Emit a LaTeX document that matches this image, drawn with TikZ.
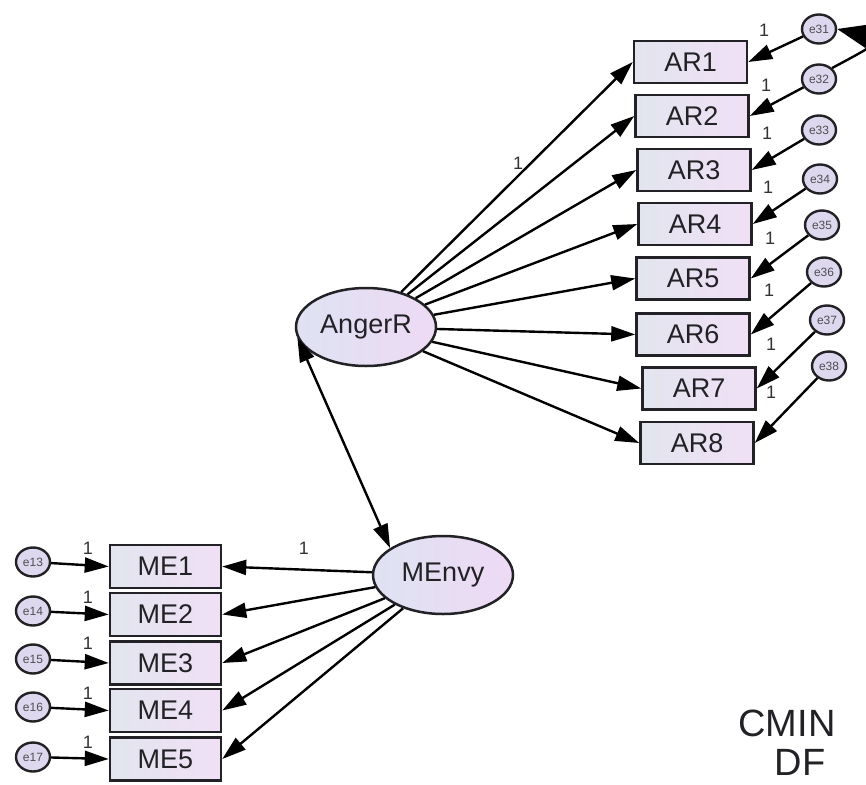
\documentclass[tikz,border=0pt]{standalone}
\usepackage{fontspec}
\setmainfont{Liberation Sans}
\usetikzlibrary{arrows.meta,shapes.geometric}
\definecolor{ink}{RGB}{34,34,38}
\definecolor{boxL}{RGB}{226,229,238}
\definecolor{boxR}{RGB}{240,224,246}
\definecolor{latL}{RGB}{222,226,242}
\definecolor{latR}{RGB}{238,218,244}
\definecolor{errF}{RGB}{222,216,238}
\definecolor{lbl}{RGB}{50,50,50}
\begin{document}
\begin{tikzpicture}[x=1pt,y=-1pt,
  obsbox/.style={draw=ink, line width=2.5pt, minimum width=113pt, minimum height=42pt,
    inner sep=0pt, left color=boxL, right color=boxR, text=ink,
    font=\fontsize{27}{27}\selectfont},
  latent/.style={ellipse, draw=ink, line width=2.5pt, minimum width=140pt,
    minimum height=78pt, inner sep=0pt, left color=latL, right color=latR, text=ink,
    font=\fontsize{27}{27}\selectfont},
  errnode/.style={ellipse, draw=ink, line width=2.4pt, minimum width=34pt,
    minimum height=29pt, inner sep=0pt, fill=errF, text=ink!80,
    font=\fontsize{12}{12}\selectfont},
  tip/.tip={Triangle[length=24pt,width=15pt]},
  regarrow/.style={draw=black, line width=2.4pt, -tip},
  covarrow/.style={draw=black, line width=2.4pt, tip-tip},
  onelbl/.style={text=lbl, font=\fontsize{18}{18}\selectfont, inner sep=0pt},
  fitlbl/.style={text=ink, font=\fontsize{38}{38}\selectfont, inner sep=0pt, anchor=base}
]
\path[use as bounding box] (0,0) rectangle (866,784);

% latent variables
\node[latent] (AngerR) at (366,327) {AngerR};
\node[latent] (MEnvy) at (443,575) {MEnvy};

% indicators of AngerR
\node[obsbox] (AR1) at (690.5,62) {AR1};
\node[obsbox] (AR2) at (692,116) {AR2};
\node[obsbox] (AR3) at (694,170) {AR3};
\node[obsbox] (AR4) at (695,224) {AR4};
\node[obsbox] (AR5) at (693,278.5) {AR5};
\node[obsbox] (AR6) at (693,334.5) {AR6};
\node[obsbox] (AR7) at (699,388.5) {AR7};
\node[obsbox] (AR8) at (697,443) {AR8};

% indicators of MEnvy
\node[obsbox, minimum width=111pt, minimum height=43pt] (ME1) at (165.5,566.5) {ME1};
\node[obsbox, minimum width=111pt, minimum height=43pt] (ME2) at (165.5,614.5) {ME2};
\node[obsbox, minimum width=111pt, minimum height=43pt] (ME3) at (165.5,663) {ME3};
\node[obsbox, minimum width=111pt, minimum height=43pt] (ME4) at (165.5,710.5) {ME4};
\node[obsbox, minimum width=111pt, minimum height=43pt] (ME5) at (165.5,759) {ME5};

% error terms
\node[errnode] (e31) at (819,29) {e31};
\node[errnode] (e32) at (819,79) {e32};
\node[errnode] (e33) at (819,130) {e33};
\node[errnode] (e34) at (820,179) {e34};
\node[errnode] (e35) at (822,225) {e35};
\node[errnode] (e36) at (824,272) {e36};
\node[errnode] (e37) at (827,320) {e37};
\node[errnode] (e38) at (829,366) {e38};

\node[errnode] (e13) at (33,562) {e13};
\node[errnode] (e14) at (33,611) {e14};
\node[errnode] (e15) at (33,659) {e15};
\node[errnode] (e16) at (33,707) {e16};
\node[errnode] (e17) at (33,757) {e17};

% loadings
\foreach \i in {1,...,8} \draw[regarrow] (AngerR) -- (AR\i.west);
\foreach \i in {1,...,5} \draw[regarrow] (MEnvy) -- (ME\i.east);

% error paths
\foreach \e/\o in {31/1,32/2,33/3,34/4,35/5,36/6,37/7,38/8}
  \draw[regarrow] (e\e) -- (AR\o.east);
\foreach \e/\o in {13/1,14/2,15/3,16/4,17/5}
  \draw[regarrow] (e\e) -- (ME\o.west);

% covariances
\draw[covarrow] (AngerR.189) -- (MEnvy.153);
\draw[draw=black, line width=2.4pt, -{Triangle[length=32pt,width=24pt]}]
  (e32.40) .. controls (875,45) and (885,40) .. (e31.east);

% fixed parameters
\node[onelbl] (l0) at (518,163) {1};
\node[onelbl] (l1) at (304,548) {1};
\node[onelbl] (l31) at (764,30) {1};
\node[onelbl] (l32) at (766,85) {1};
\node[onelbl] (l33) at (767,133) {1};
\node[onelbl] (l34) at (768,187) {1};
\node[onelbl] (l35) at (770,238) {1};
\node[onelbl] (l36) at (769,290) {1};
\node[onelbl] (l37) at (771,344) {1};
\node[onelbl] (l38) at (771,392) {1};
\node[onelbl] (l13) at (88,548) {1};
\node[onelbl] (l14) at (88,597) {1};
\node[onelbl] (l15) at (88,643) {1};
\node[onelbl] (l16) at (88,693) {1};
\node[onelbl] (l17) at (88,742) {1};

% fit statistics
\node[fitlbl] (cmin) at (787,736) {CMIN};
\node[fitlbl] (df) at (800,775) {DF};
\end{tikzpicture}
\end{document}
